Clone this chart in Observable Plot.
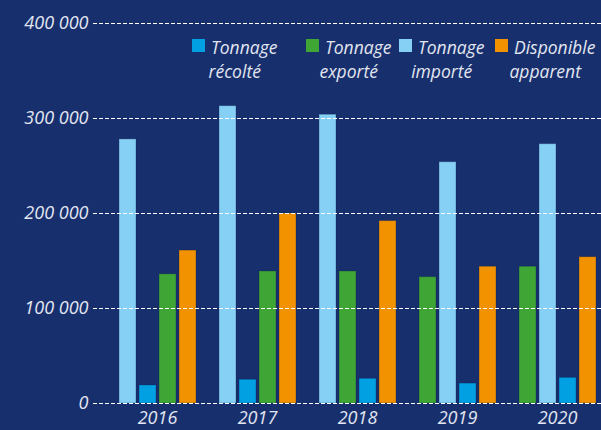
<!DOCTYPE html>
<html><head><meta charset="utf-8">
<script src="https://cdn.jsdelivr.net/npm/d3@7"></script>
<script src="https://cdn.jsdelivr.net/npm/@observablehq/plot@0.6"></script>
<style>
html,body{margin:0;padding:0;background:#182f6e;}
#wrap{position:relative;width:601px;height:430px;overflow:hidden;font-family:"Open Sans",sans-serif;font-style:italic;}
#wrap svg{position:absolute;left:0;top:0;}
#legend{position:absolute;top:0;left:0;width:601px;height:100px;color:#e2e6f0;font-size:17.5px;line-height:24px;}
.item{position:absolute;top:35px;text-align:center;white-space:nowrap;}
.item:nth-child(1){left:192px;}
.item:nth-child(2){left:306px;}
.item:nth-child(3){left:399px;}
.item:nth-child(4){left:495px;}
.sw{display:inline-block;width:13px;height:13px;margin-right:6px;vertical-align:2px;}
</style></head><body><div id="wrap"></div>
<script>
const years = ["2016", "2017", "2018", "2019", "2020"];
const series = ["Tonnage récolté", "Tonnage exporté", "Tonnage importé", "Disponible apparent"];
const legendLine1 = ["Tonnage", "Tonnage", "Tonnage", "Disponible"];
const legendLine2 = ["récolté", "exporté", "importé", "apparent"];
const colors = ["#00a0e3", "#3fa535", "#86cff5", "#f39200"];
const recolte = [19000, 25000, 26000, 21000, 27000];
const exporte = [136000, 139000, 139000, 133000, 144000];
const importe = [278000, 313000, 304000, 254000, 273000];
const disponible = [161000, 200000, 192000, 144000, 154000];
// order of the bars inside each year group, as drawn in the source
const barOrder = [
  ["Tonnage importé", "Tonnage récolté", "Tonnage exporté", "Disponible apparent"],
  ["Tonnage importé", "Tonnage récolté", "Tonnage exporté", "Disponible apparent"],
  ["Tonnage importé", "Tonnage exporté", "Tonnage récolté", "Disponible apparent"],
  ["Tonnage exporté", "Tonnage importé", "Tonnage récolté", "Disponible apparent"],
  ["Tonnage exporté", "Tonnage importé", "Tonnage récolté", "Disponible apparent"]
];
const yTicks = [0, 100000, 200000, 300000, 400000];

const valuesBySeries = [recolte, exporte, importe, disponible];
const rows = [];
years.forEach((year, i) => {
  series.forEach((s, j) => {
    rows.push({year, series: s, value: valuesBySeries[j][i], slot: barOrder[i].indexOf(s)});
  });
});

const fmt = d => d3.format(",")(d).replace(/,/g, " ");
const common = {
  width: 601,
  height: 430,
  marginLeft: 93,
  marginRight: 0,
  marginTop: 23,
  marginBottom: 27,
  style: {background: "transparent", color: "#e2e6f0", fontFamily: "'Open Sans', sans-serif", fontStyle: "italic", fontSize: "18px"},
  y: {domain: [0, 400000], axis: null}
};

// bars, faceted by year
const bars = Plot.plot({
  ...common,
  fx: {domain: years, paddingInner: 0.2, paddingOuter: 0.14, align: 0.857, label: null, tickSize: 0, tickPadding: 8},
  x: {domain: [0, 1, 2, 3], paddingInner: 0.15, paddingOuter: 0, axis: null},
  color: {domain: series, range: colors},
  marks: [
    Plot.barY(rows, {fx: "year", x: "slot", y: "value", fill: "series", stroke: "#0a1a4a", strokeOpacity: 0.3, strokeWidth: 1})
  ]
});

// dashed grid and y labels, drawn over the bars
const grid = Plot.plot({
  ...common,
  marks: [
    Plot.ruleY(yTicks, {stroke: "#ffffff", strokeDasharray: "4,2", strokeWidth: 1}),
    Plot.axisY(yTicks, {anchor: "left", tickSize: 0, tickPadding: 5, tickFormat: fmt, label: null, fontSize: 18})
  ]
});

const wrap = document.getElementById("wrap");
wrap.appendChild(bars);
wrap.appendChild(grid);

const legend = document.createElement("div");
legend.id = "legend";
series.forEach((s, i) => {
  const item = document.createElement("div");
  item.className = "item";
  const sw = document.createElement("span");
  sw.className = "sw";
  sw.style.background = colors[i];
  item.appendChild(sw);
  item.appendChild(document.createTextNode(legendLine1[i]));
  item.appendChild(document.createElement("br"));
  item.appendChild(document.createTextNode(legendLine2[i]));
  legend.appendChild(item);
});
wrap.appendChild(legend);
</script></body></html>
